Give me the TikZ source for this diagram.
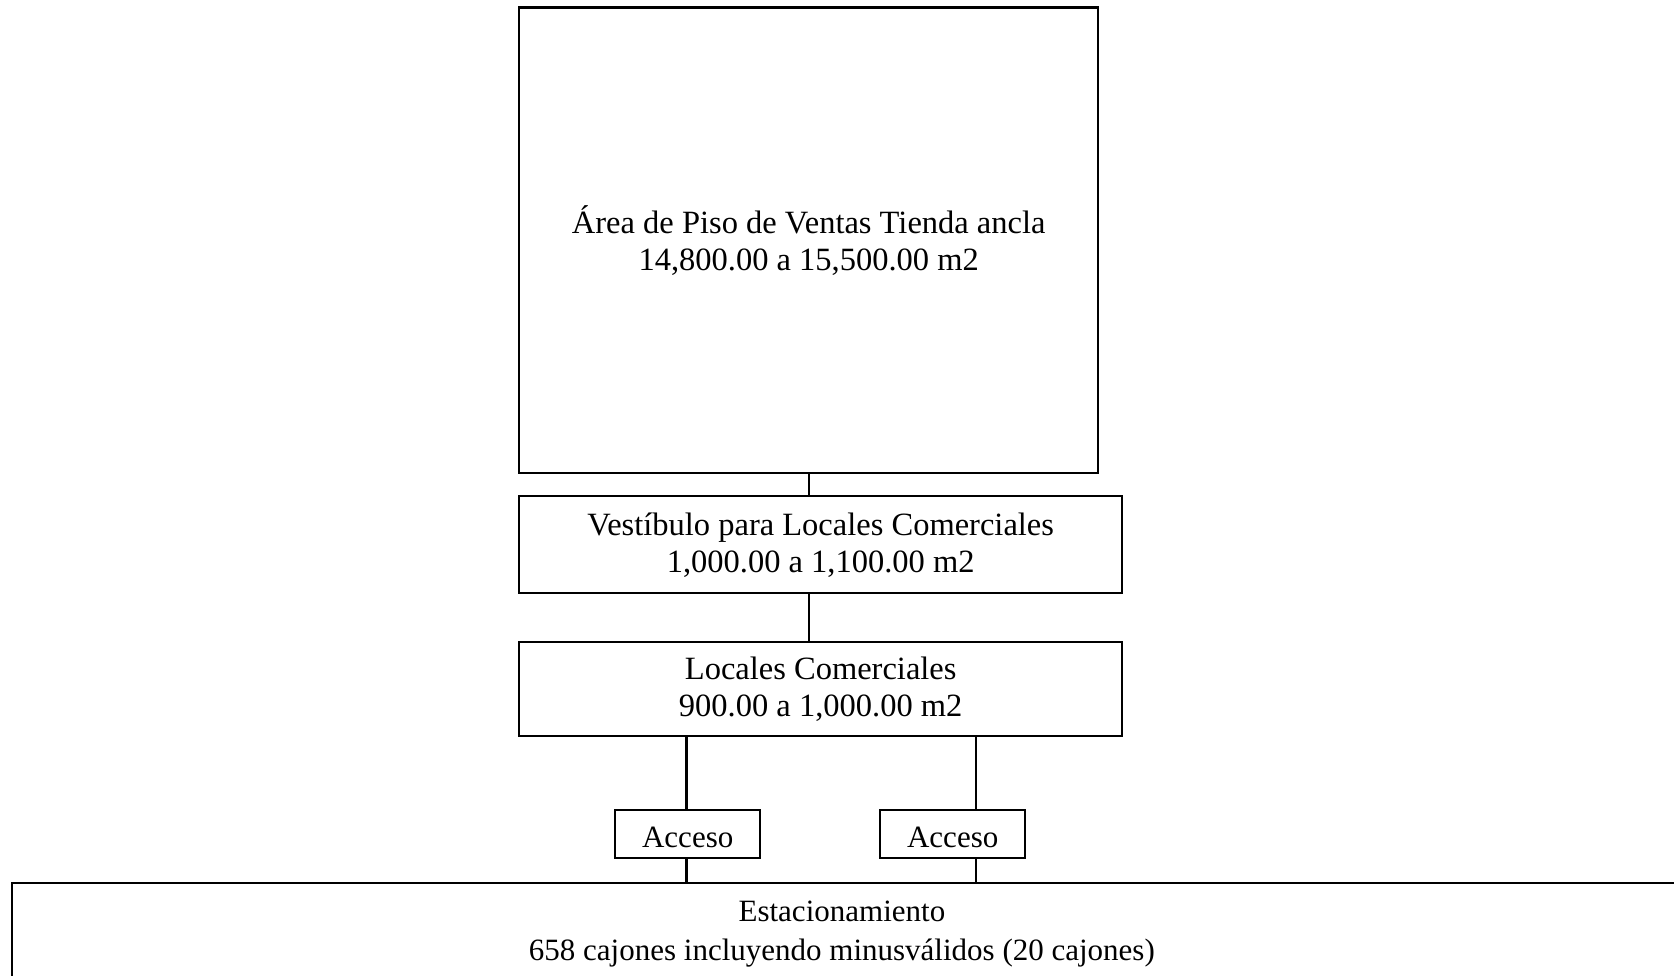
\documentclass[tikz,border=0pt]{standalone}
\usepackage{fontspec}
\setmainfont{Liberation Serif}
\begin{document}
\begin{tikzpicture}[x=1pt,y=-1pt,
  box/.style={draw=black,line width=2.4pt,fill=white,inner sep=0pt,anchor=north west,align=center,
    font=\fontsize{32.5}{37}\selectfont},
  conn/.style={draw=black,line width=2.4pt}]
\useasboundingbox (0,0) rectangle (1674,976);
\clip (0,0) rectangle (1674,976);
\fill[white] (0,0) rectangle (1674,976);
\node[box,minimum width=579pt,minimum height=465pt] (top) at (518,6.5) {Área de Piso de Ventas Tienda ancla\\14,800.00 a 15,500.00 m2};
\node[box,minimum width=603pt,minimum height=97pt] (vest) at (518,495) {Vestíbulo para Locales Comerciales\\1,000.00 a 1,100.00 m2};
\node[box,minimum width=603pt,minimum height=94pt] (loc) at (518,641) {Locales Comerciales\\900.00 a 1,000.00 m2};
\node[box,minimum width=145pt,minimum height=48pt,font=\fontsize{31}{36}\selectfont] (acc1) at (614,809) {\raisebox{-13pt}[0pt][0pt]{Acceso}};
\node[box,minimum width=145pt,minimum height=48pt,font=\fontsize{31}{36}\selectfont] (acc2) at (879,809) {\raisebox{-13pt}[0pt][0pt]{Acceso}};
\node[box,minimum width=1672pt,minimum height=102pt,font=\fontsize{31}{38.5}\selectfont] (est) at (10.7,882) {Estacionamiento\hspace*{12pt}\\658 cajones incluyendo minusválidos (20 cajones)\hspace*{12pt}};
\coordinate (c1) at (686.5,735);
\coordinate (c2) at (976,735);
\draw[conn] (top.south) -- (top.south |- vest.north);
\draw[conn] (top.south |- vest.south) -- (top.south |- loc.north);
\draw[conn] (c1) -- (c1 |- acc1.north);
\draw[conn] (c2) -- (c2 |- acc2.north);
\draw[conn] (c1 |- acc1.south) -- (c1 |- est.north);
\draw[conn] (c2 |- acc2.south) -- (c2 |- est.north);
\end{tikzpicture}
\end{document}
